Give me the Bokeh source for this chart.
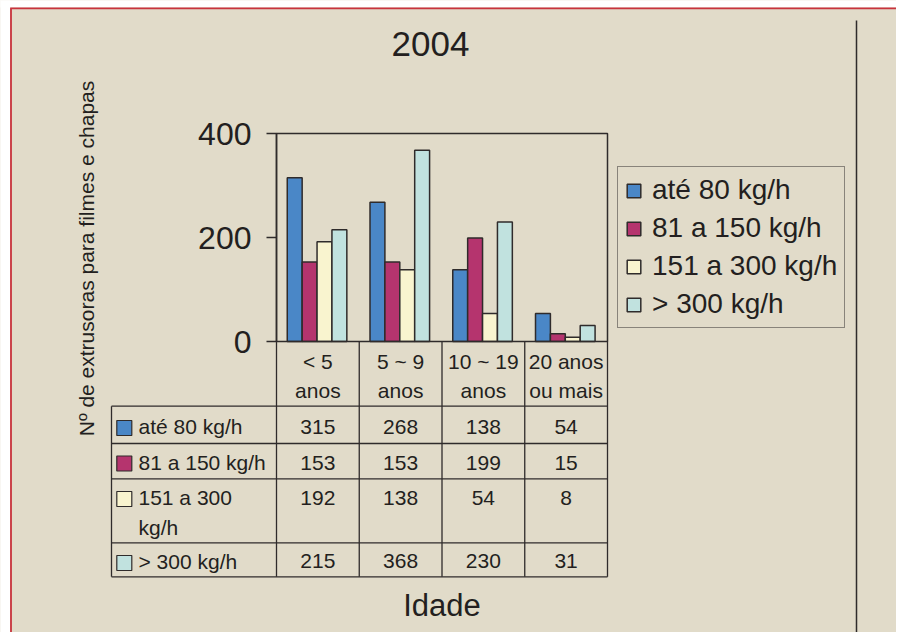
import math
from bokeh.plotting import figure
from bokeh.models import (Range1d, FixedTicker, Legend, LegendItem,
                          LabelSet, Label, ColumnDataSource, Arrow, BoxAnnotation)
from bokeh.core.properties import value
from bokeh.transform import dodge
from bokeh.embed import file_html
from bokeh.resources import INLINE

# ---------------- data ----------------
title_text = "2004"
y_title = "Nº de extrusoras para filmes e chapas"
x_title = "Idade"
categories = ["< 5\nanos", "5 ~ 9\nanos", "10 ~ 19\nanos", "20 anos\nou mais"]
series_names = ["até 80 kg/h", "81 a 150 kg/h", "151 a 300 kg/h", "> 300 kg/h"]
table_row_labels = ["até 80 kg/h", "81 a 150 kg/h", "151 a 300\nkg/h", "> 300 kg/h"]
ate_80 = [315, 268, 138, 54]
de_81_a_150 = [153, 153, 199, 15]
de_151_a_300 = [192, 138, 54, 8]
acima_300 = [215, 368, 230, 31]
y_ticks = [0, 200, 400]
series_values = [ate_80, de_81_a_150, de_151_a_300, acima_300]

# ---------------- style ----------------
colors = ["#4A87C7", "#B5346E", "#F9F4CF", "#C1E2DF"]
offsets = [-0.28, -0.10, 0.08, 0.26]
BG = "#E1DBC9"
INK = "#231F20"
LINE = "#2F2B2B"
FONT = "Liberation Sans"

# page-pixel geometry of the bar area (categories centred on 0..3, values 0..400)
FL, FR, FT, FB = 277, 608, 134, 342
NCAT = len(categories)
cat_index = list(range(NCAT))
YMAX = 400
PAGE_OFF = 1
PAGE_W, PAGE_H = 897, 633
COLW = (FR - FL) / NCAT
UNIT_Y = YMAX / (FB - FT)
LEFT_EDGE, RIGHT_EDGE = cat_index[0] - 0.5, cat_index[-1] + 0.5


def dx(page_x):
    return (page_x - FL) / COLW + LEFT_EDGE


def dy(page_y):
    return (FB - page_y) * UNIT_Y


W, H = PAGE_W - PAGE_OFF, PAGE_H - PAGE_OFF
p = figure(width=W, height=H,
           x_range=Range1d(dx(PAGE_OFF), dx(PAGE_W)),
           y_range=Range1d(dy(PAGE_H), dy(PAGE_OFF)),
           output_backend="svg", toolbar_location=None,
           min_border_left=0, min_border_top=0, min_border_bottom=0, min_border_right=0)
p.background_fill_color = BG
p.border_fill_color = BG
p.outline_line_color = None
p.xgrid.grid_line_color = None
p.ygrid.grid_line_color = None

# page margins (white strip + red rule)
p.add_layout(BoxAnnotation(left=dx(0), right=dx(10.7), top=dy(0), bottom=dy(PAGE_H),
                           fill_color="white", fill_alpha=1.0, line_alpha=0))
p.add_layout(BoxAnnotation(left=dx(0), right=dx(PAGE_W), top=dy(0), bottom=dy(8),
                           fill_color="white", fill_alpha=1.0, line_alpha=0))
deco = ColumnDataSource(dict(x0=[dx(11.5), dx(10.7)], y0=[dy(8.9), dy(8.9)],
                             x1=[dx(11.5), dx(PAGE_W)], y1=[dy(PAGE_H), dy(8.9)]))
p.add_layout(Arrow(end=None, x_start="x0", y_start="y0", x_end="x1", y_end="y1",
                   source=deco, line_color="#C8333D", line_width=1.8))
side = ColumnDataSource(dict(x0=[dx(857)], y0=[dy(21)], x1=[dx(857)], y1=[dy(PAGE_H)]))
p.add_layout(Arrow(end=None, x_start="x0", y_start="y0", x_end="x1", y_end="y1",
                   source=side, line_color=LINE, line_width=1.5))

renderers = []
for name, vals, col, off in zip(series_names, series_values, colors, offsets):
    src = ColumnDataSource(dict(xc=cat_index, cat=categories, v=vals))
    r = p.vbar(x=dodge("xc", off), top="v", width=0.18,
               source=src, fill_color=col, line_color=LINE, line_width=1.5)
    renderers.append((name, r))

# box around the bar area
p.add_layout(BoxAnnotation(left=LEFT_EDGE, right=RIGHT_EDGE, bottom=0, top=YMAX,
                           fill_alpha=0, line_color=LINE, line_width=1.5, line_alpha=1.0))

# y axis placed at the left edge of the bar area
ya = p.yaxis[0]
ya.fixed_location = LEFT_EDGE
ya.bounds = (0, YMAX)
ya.ticker = FixedTicker(ticks=y_ticks)
ya.minor_tick_line_color = None
ya.major_tick_in = 0
ya.major_tick_out = 10
ya.major_tick_line_color = LINE
ya.major_tick_line_width = 1.5
ya.axis_line_color = LINE
ya.axis_line_width = 1.5
ya.major_label_text_font = FONT
ya.major_label_text_font_size = "32px"
ya.major_label_text_color = INK
ya.major_label_standoff = 15

# x axis at value 0: category header of the table + axis title
xa = p.xaxis[0]
xa.fixed_location = 0
xa.bounds = (LEFT_EDGE, RIGHT_EDGE)
xa.ticker = FixedTicker(ticks=cat_index)
xa.major_label_overrides = dict(zip(cat_index, categories))
xa.minor_tick_line_color = None
xa.major_tick_line_color = None
xa.axis_line_color = None
xa.major_label_text_font = FONT
xa.major_label_text_font_size = "21px"
xa.major_label_text_color = INK
xa.major_label_text_line_height = 1.3
xa.major_label_standoff = 2
xa.axis_label = x_title
xa.axis_label_text_font = FONT
xa.axis_label_text_font_size = "31px"
xa.axis_label_text_font_style = "normal"
xa.axis_label_text_color = INK
xa.axis_label_standoff = 183

# title and y title
p.add_layout(Label(x=dx(431), y=dy(44), text=title_text, text_align="center",
                   text_baseline="middle", text_font=FONT, text_font_size="35px",
                   text_color=INK))
p.add_layout(Label(x=dx(87), y=dy(259), text=y_title, angle=math.pi / 2,
                   text_align="center", text_baseline="middle",
                   text_font=FONT, text_font_size="21px", text_color=INK))

# legend (frame-relative pixels)
legend = Legend(items=[LegendItem(label=n, renderers=[r]) for n, r in renderers],
                location=(618 - PAGE_OFF, 304), orientation="vertical",
                label_text_font=FONT, label_text_font_size="28px", label_text_color=INK,
                glyph_width=17, glyph_height=17, label_standoff=10, padding=7,
                spacing=6, margin=0, border_line_color=LINE, border_line_width=1.3,
                background_fill_color=BG, background_fill_alpha=1.0)
p.add_layout(legend)

# ---------------- data table under the chart ----------------
row_bounds = [406.7, 444.0, 479.3, 543.3, 577.3]   # page y of the table's row lines
row_text_y = [427.3, 463.3, 498.3, 561.7]          # page y of the first text line of each row
swatch_y = [428.5, 464.0, 499.5, 563.5]
TL = 112

x0, y0, x1, y1 = [], [], [], []
for i in range(NCAT + 1):
    xe = LEFT_EDGE + i
    x0.append(xe); x1.append(xe); y0.append(0); y1.append(dy(row_bounds[-1]))
x0.append(dx(TL)); x1.append(dx(TL)); y0.append(dy(row_bounds[0])); y1.append(dy(row_bounds[-1]))
for yb in row_bounds:
    x0.append(dx(TL)); x1.append(RIGHT_EDGE); y0.append(dy(yb)); y1.append(dy(yb))
grid_src = ColumnDataSource(dict(x0=x0, y0=y0, x1=x1, y1=y1))
p.add_layout(Arrow(end=None, x_start="x0", y_start="y0", x_end="x1", y_end="y1",
                   source=grid_src, line_color=LINE, line_width=1.3))

vx, vy, vt = [], [], []
for ri, vals in enumerate(series_values):
    for ci, v in zip(cat_index, vals):
        vx.append(ci)
        vy.append(dy(row_text_y[ri]))
        vt.append(str(v))
p.add_layout(LabelSet(x="x", y="y", text="t", source=ColumnDataSource(dict(x=vx, y=vy, t=vt)),
                      text_align="center", text_baseline="middle", text_font=value(FONT),
                      text_font_size=value("21px"), text_color=INK))

LINE_GAP = 30
lab_x = [dx(139)] * len(table_row_labels)
lab_y = []
for ri, t in enumerate(table_row_labels):
    nlines = t.count("\n") + 1
    lab_y.append(dy(row_text_y[ri] + (nlines - 1) * LINE_GAP / 2))
p.add_layout(LabelSet(x="x", y="y", text="t",
                      source=ColumnDataSource(dict(x=lab_x, y=lab_y, t=table_row_labels)),
                      text_align="left", text_baseline="middle", text_font=value(FONT),
                      text_font_size=value("21px"), text_color=INK, text_line_height=1.3))
for sy, col in zip(swatch_y, colors):
    p.add_layout(BoxAnnotation(left=dx(117.3), right=dx(132.3), top=dy(sy - 7.5),
                               bottom=dy(sy + 7.5), fill_color=col, fill_alpha=1.0,
                               line_color=LINE, line_width=1.2, line_alpha=1.0))

open("out.html", "w").write(file_html(p, INLINE))
